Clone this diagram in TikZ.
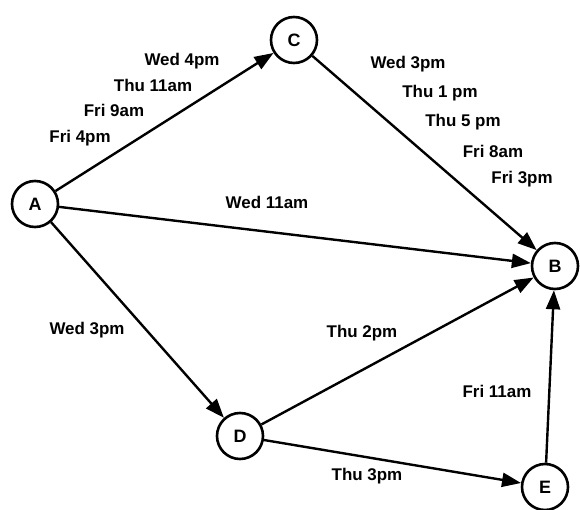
\documentclass[tikz,border=0pt]{standalone}
\usepackage{fontspec}
\setmainfont{Liberation Sans}
\usetikzlibrary{arrows.meta}
\begin{document}
\begin{tikzpicture}[x=1bp,y=-1bp,
  vertex/.style={circle,draw,line width=2.6bp,minimum size=46bp,inner sep=0pt,font=\fontsize{18}{18}\selectfont\bfseries},
  edge/.style={line width=2.4bp,-{Triangle[length=19bp,width=14bp]}},
  lbl/.style={font=\fontsize{17}{17}\selectfont\bfseries,inner sep=0pt}]
\useasboundingbox (0,0) rectangle (580,510);
\node[vertex] (A) at (35,204) {A};
\node[vertex] (C) at (294,40) {C};
\node[vertex] (B) at (555,266) {B};
\node[vertex] (D) at (240,436) {D};
\node[vertex] (E) at (545,487) {E};
\draw[edge] (A) -- (C);
\draw[edge] (A) -- (B);
\draw[edge] (A) -- (D);
\draw[edge] (C) -- (B);
\draw[edge] (D) -- (B);
\draw[edge] (D) -- (E);
\draw[edge] (E) -- (B);
\node[lbl] (l1) at (182,61) {Wed 4pm};
\node[lbl] (l2) at (153,85) {Thu 11am};
\node[lbl] (l3) at (114,110) {Fri 9am};
\node[lbl] (l4) at (80,138) {Fri 4pm};
\node[lbl] (l5) at (267,202) {Wed 11am};
\node[lbl] (l6) at (408,64) {Wed 3pm};
\node[lbl] (l7) at (440,93) {Thu 1 pm};
\node[lbl] (l8) at (463,122) {Thu 5 pm};
\node[lbl] (l9) at (493,151) {Fri 8am};
\node[lbl] (l10) at (522,179) {Fri 3pm};
\node[lbl] (l11) at (87,330) {Wed 3pm};
\node[lbl] (l12) at (362,333) {Thu 2pm};
\node[lbl] (l13) at (497,391) {Fri 11am};
\node[lbl] (l14) at (367,476) {Thu 3pm};
\end{tikzpicture}
\end{document}
